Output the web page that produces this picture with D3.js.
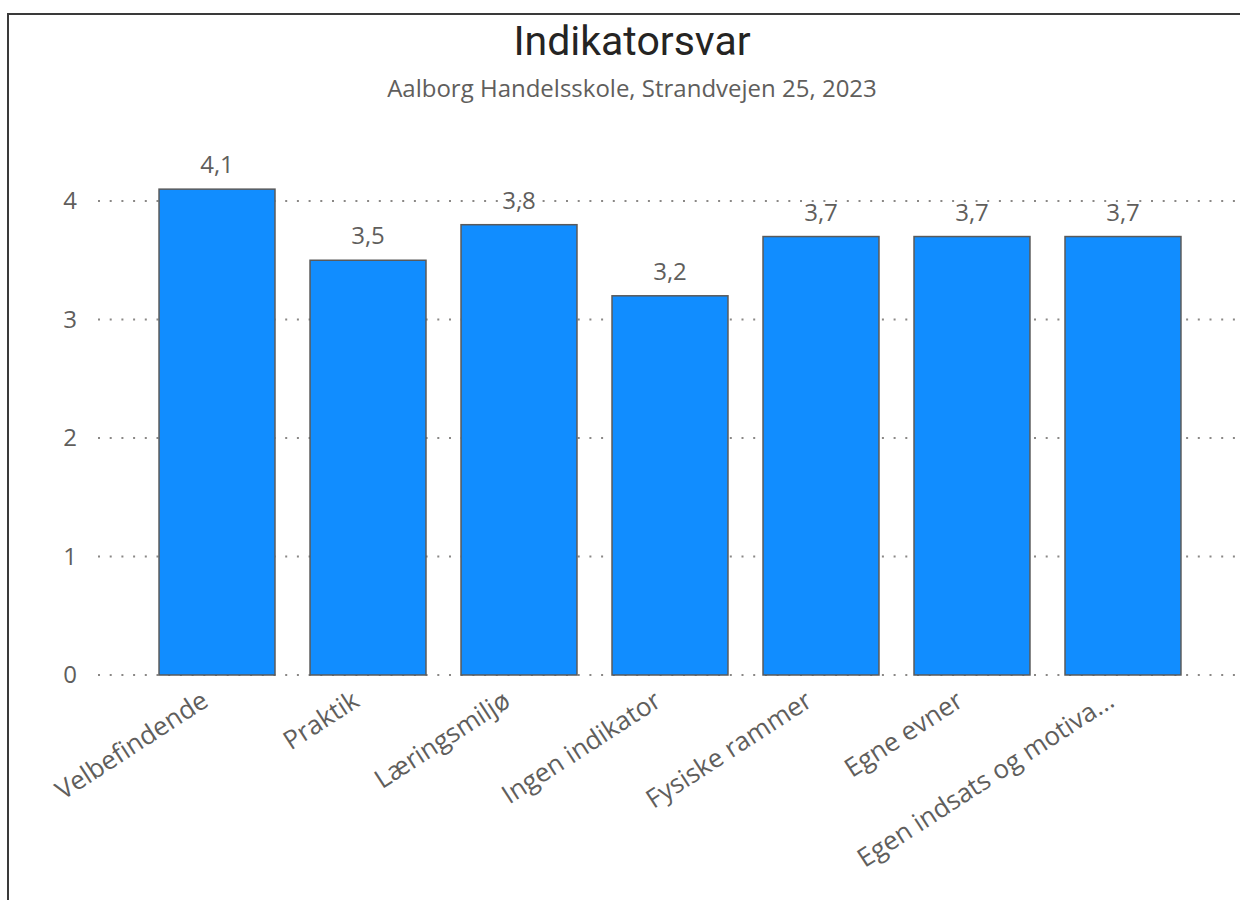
<!DOCTYPE html>
<html>
<head>
<meta charset="utf-8">
<script src="https://cdn.jsdelivr.net/npm/d3@7"></script>
<style>
  body { margin: 0; background: #fff; }
  svg { display: block; }
</style>
</head>
<body>
<svg width="1240" height="900"></svg>
<script>
// Data
var categories = ["Velbefindende", "Praktik", "Læringsmiljø", "Ingen indikator", "Fysiske rammer", "Egne evner", "Egen indsats og motiva..."];
var values = [4.1, 3.5, 3.8, 3.2, 3.7, 3.7, 3.7];
var yTicks = [0, 1, 2, 3, 4];

var svg = d3.select("svg"),
    width = +svg.attr("width"),
    height = +svg.attr("height");

var fontBody = "'Segoe UI', 'Open Sans', sans-serif";
var grey = "#605E5C";

// frame
svg.append("rect")
    .attr("x", 8).attr("y", 14)
    .attr("width", 1300).attr("height", 1000)
    .attr("fill", "none")
    .attr("stroke", "#3a3a3a")
    .attr("stroke-width", 2);

// title + subtitle
svg.append("text")
    .attr("x", 632).attr("y", 55)
    .attr("text-anchor", "middle")
    .style("font-family", "Roboto, 'DejaVu Sans', sans-serif")
    .style("font-size", "41px")
    .attr("fill", "#252423")
    .text("Indikatorsvar");

svg.append("text")
    .attr("x", 632).attr("y", 97)
    .attr("text-anchor", "middle")
    .style("font-family", fontBody)
    .style("font-size", "24px")
    .attr("fill", grey)
    .text("Aalborg Handelsskole, Strandvejen 25, 2023");

// scales
var x = d3.scaleBand()
    .domain(categories)
    .range([124, 1216])
    .padding(0.232);

var y = d3.scaleLinear()
    .domain([0, 4])
    .range([675, 201]);

// gridlines
svg.append("g")
    .selectAll("line")
    .data(yTicks)
    .enter()
    .append("line")
    .attr("x1", 98).attr("x2", width)
    .attr("y1", function (d) { return y(d); })
    .attr("y2", function (d) { return y(d); })
    .attr("stroke", "#8a8886")
    .attr("stroke-width", 2)
    .attr("stroke-dasharray", "2,9.7");

// y axis labels
svg.append("g")
    .selectAll("text")
    .data(yTicks)
    .enter()
    .append("text")
    .attr("x", 77)
    .attr("y", function (d) { return y(d); })
    .attr("dy", "0.35em")
    .attr("text-anchor", "end")
    .style("font-family", fontBody)
    .style("font-size", "24px")
    .attr("fill", grey)
    .text(function (d) { return d; });

// bars
svg.append("g")
    .selectAll("rect")
    .data(values)
    .enter()
    .append("rect")
    .attr("x", function (d, i) { return x(categories[i]); })
    .attr("y", function (d) { return y(d); })
    .attr("width", x.bandwidth())
    .attr("height", function (d) { return y(0) - y(d); })
    .attr("fill", "#118DFF")
    .attr("stroke", "#5a5a5a")
    .attr("stroke-width", 1.5);

// data labels
svg.append("g")
    .selectAll("text")
    .data(values)
    .enter()
    .append("text")
    .attr("x", function (d, i) { return x(categories[i]) + x.bandwidth() / 2; })
    .attr("y", function (d) { return y(d) - 16; })
    .attr("text-anchor", "middle")
    .style("font-family", fontBody)
    .style("font-size", "24px")
    .attr("fill", grey)
    .text(function (d) { return String(d).replace(".", ","); });

// category labels
svg.append("g")
    .selectAll("text")
    .data(categories)
    .enter()
    .append("text")
    .attr("transform", function (d) {
        return "translate(" + (x(d) + x.bandwidth() / 2 - 7) + ",705) rotate(-33)";
    })
    .attr("text-anchor", "end")
    .style("font-family", fontBody)
    .style("font-size", "26px")
    .attr("fill", grey)
    .text(function (d) { return d; });
</script>
</body>
</html>
